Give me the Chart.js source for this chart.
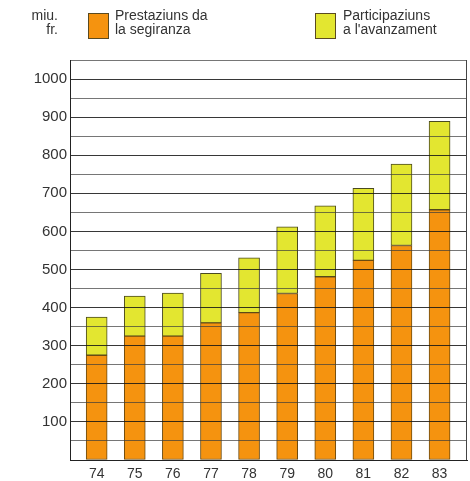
<!DOCTYPE html>
<html>
<head>
<meta charset="utf-8">
<script src="https://cdn.jsdelivr.net/npm/chart.js@4/dist/chart.umd.min.js"></script>
<style>
  html, body { margin: 0; padding: 0; background: #ffffff; }
  #wrap { width: 470px; height: 481px; }
</style>
</head>
<body>
<div id="wrap"><canvas id="c" width="470" height="481"></canvas></div>
<script>
const years = [74, 75, 76, 77, 78, 79, 80, 81, 82, 83];
const prestaziuns = [275, 325, 325, 360, 387, 437, 481, 524, 563, 657];
const participaziuns = [100, 105, 113, 130, 144, 175, 186, 189, 214, 232];
const seriesLabels = [["Prestaziuns da", "la segiranza"], ["Participaziuns", "a l'avanzament"]];
const unitLabel = ["miu.", "fr."];
const yTickLabels = [100, 200, 300, 400, 500, 600, 700, 800, 900, 1000];

const ORANGE = '#F5930F';
const YELLOW = '#E3E630';
const FONT = '"Liberation Sans", Arial, sans-serif';

const legendPlugin = {
  id: 'topLegend',
  afterDraw(chart) {
    const ctx = chart.ctx;
    const a = chart.chartArea;
    ctx.save();
    // right frame line
    ctx.strokeStyle = '#444';
    ctx.lineWidth = 1;
    ctx.beginPath();
    ctx.moveTo(Math.round(a.right) - 0.5, a.top);
    ctx.lineTo(Math.round(a.right) - 0.5, a.bottom);
    ctx.stroke();

    ctx.font = '14px ' + FONT;
    ctx.fillStyle = '#333';
    ctx.textBaseline = 'middle';
    ctx.textAlign = 'right';
    ctx.fillText(unitLabel[0], 58, 16);
    ctx.fillText(unitLabel[1], 58, 30);
    const boxes = [{x: 88, color: ORANGE, tx: 115}, {x: 315, color: YELLOW, tx: 343}];
    boxes.forEach((b, i) => {
      ctx.fillStyle = b.color;
      ctx.fillRect(b.x, 13, 20, 25);
      ctx.strokeStyle = '#5a4a20';
      ctx.lineWidth = 1;
      ctx.strokeRect(b.x + 0.5, 13.5, 20, 25);
      ctx.fillStyle = '#333';
      ctx.textAlign = 'left';
      ctx.fillText(chart.data.datasets[i].label[0], b.tx, 16);
      ctx.fillText(chart.data.datasets[i].label[1], b.tx, 30);
    });
    ctx.restore();
  }
};

new Chart(document.getElementById('c'), {
  type: 'bar',
  data: {
    datasets: [
      {
        label: seriesLabels[0],
        data: years.map((y, i) => ({x: y, y: prestaziuns[i]})),
        backgroundColor: ORANGE,
        borderColor: '#6b4a10',
        borderWidth: 1,
        borderSkipped: false,
        barThickness: 21
      },
      {
        label: seriesLabels[1],
        data: years.map((y, i) => ({x: y, y: participaziuns[i]})),
        backgroundColor: YELLOW,
        borderColor: '#4a4a20',
        borderWidth: 1,
        borderSkipped: false,
        barThickness: 21
      }
    ]
  },
  options: {
    responsive: false,
    animation: false,
    layout: { padding: { top: 60, right: 3, left: 0, bottom: 0 } },
    plugins: { legend: { display: false }, tooltip: { enabled: false } },
    scales: {
      x: {
        type: 'linear',
        stacked: true,
        offset: false,
        min: 73.3,
        max: 83.72,
        afterBuildTicks: (axis) => { axis.ticks = years.map(v => ({value: v})); },
        afterFit: (scale) => { scale.height = 21; },
        grid: { display: false, drawTicks: false, offset: false },
        border: { display: true, color: '#222', width: 1, z: 2 },
        ticks: {
          font: { family: FONT, size: 14 },
          color: '#333',
          padding: 6,
          autoSkip: false,
          maxRotation: 0,
          callback: (v) => String(v)
        }
      },
      y: {
        stacked: true,
        min: 0,
        max: 1050,
        afterBuildTicks: (axis) => {
          const t = [];
          for (let v = 0; v <= 1050; v += 50) t.push({value: v});
          axis.ticks = t;
        },
        afterFit: (scale) => { scale.width = 70; },
        grid: {
          z: 1,
          drawTicks: false,
          color: (c) => (c.tick && c.tick.value % 100 === 0) ? 'rgba(20,20,20,0.85)' : 'rgba(60,60,60,0.7)',
          lineWidth: 1
        },
        border: { display: true, color: '#222', width: 1, z: 2 },
        ticks: {
          font: { family: FONT, size: 15 },
          color: '#333',
          padding: 3,
          autoSkip: false,
          callback: (v) => yTickLabels.includes(v) ? String(v) : ''
        }
      }
    }
  },
  plugins: [legendPlugin]
});
</script>
</body>
</html>
